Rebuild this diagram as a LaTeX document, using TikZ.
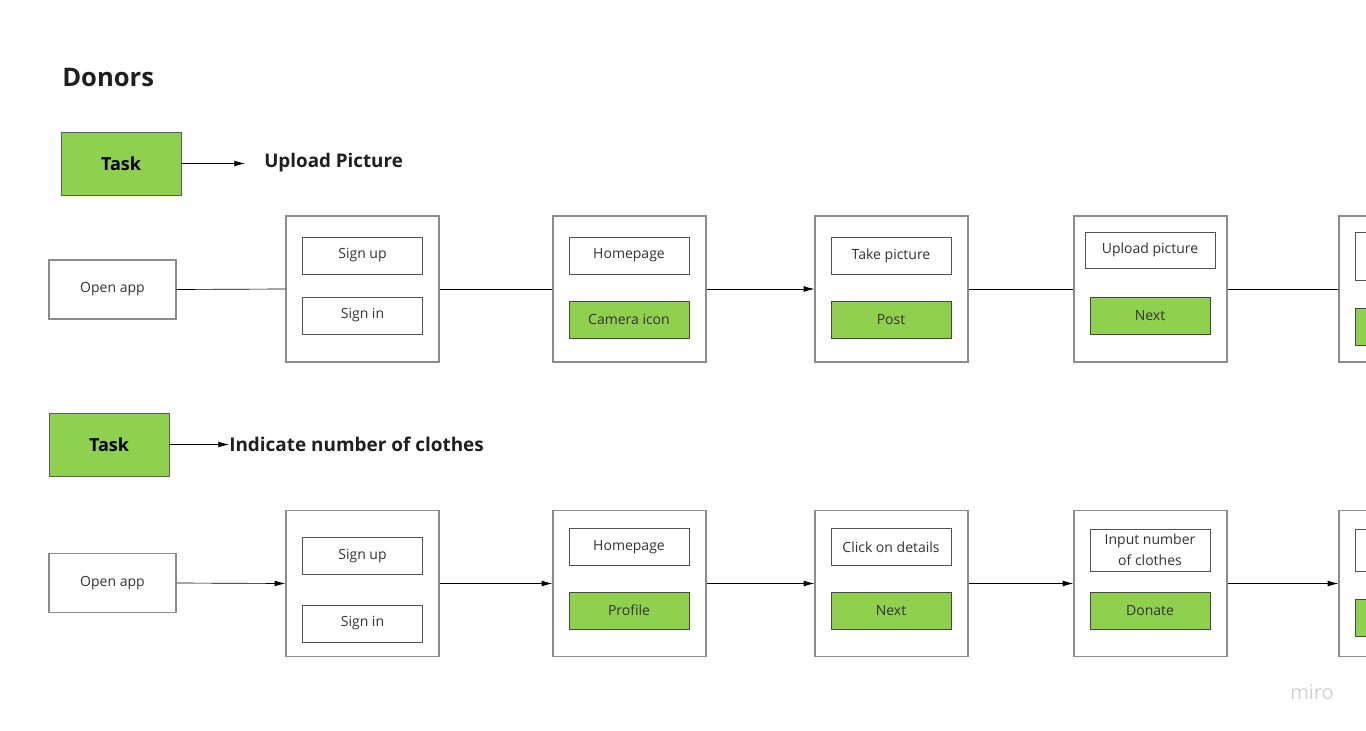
\documentclass[tikz,border=0pt]{standalone}
\usepackage{fontspec}
\setmainfont{Open Sans}
\usetikzlibrary{arrows.meta}
\definecolor{mirogreen}{HTML}{8FD14F}
\definecolor{ink}{HTML}{333333}
\tikzset{
  screen/.style={draw=gray!90,line width=1pt,minimum width=114.75pt,minimum height=109.5pt},
  item/.style={draw=ink!85,line width=0.7pt,fill=white,text=ink,minimum width=90pt,minimum height=27.75pt,inner sep=1pt,align=center,font=\fontsize{10.5}{15.5}\selectfont},
  act/.style={item,fill=mirogreen,draw=ink!90},
  startbox/.style={draw=gray!90,line width=0.8pt,text=ink,minimum width=95.25pt,minimum height=44.25pt,font=\fontsize{10.5}{12}\selectfont},
  taskbox/.style={draw=ink!80,line width=0.7pt,fill=mirogreen,minimum width=90pt,minimum height=47.25pt,font=\fontsize{13.5}{15}\selectfont\bfseries},
  flow/.style={line width=0.5pt},
  flowarrow/.style={flow,-{Latex[length=8pt,width=4.4pt]}}
}
\begin{document}
\begin{tikzpicture}[x=0.75pt,y=-0.75pt]
\useasboundingbox (0,0) rectangle (1366,731);
\clip (0,0) rectangle (1366,731);
% title and tasks
\node[anchor=west,inner sep=0,font=\fontsize{19.2}{21}\selectfont\bfseries,text=black!88] (donors) at (62,77) {Donors};
\node[taskbox] (task1) at (121,163.5) {Task};
\coordinate (task1end) at (245,163.5);
\draw[flowarrow] (task1.east) -- (task1end);
\node[anchor=west,inner sep=0,font=\fontsize{14.1}{16}\selectfont\bfseries,text=black!88] (goal1) at (264,163) {Upload Picture};
\node[taskbox] (task2) at (109,444.5) {Task};
\node[anchor=west,inner sep=0,font=\fontsize{14.2}{16}\selectfont\bfseries,text=black!88] (goal2) at (229,444.5) {Indicate number of clothes};
\draw[flowarrow] (task2.east) -- (goal2.west);
% first flow
\node[startbox] (openA) at (112.5,289.5) {Open app};
\node[screen] (s1a) at (362.5,289) {};
\node[screen] (s1b) at (629.5,289) {};
\node[screen] (s1c) at (891.5,289) {};
\node[screen] (s1d) at (1150.5,289) {};
\node[screen] (s1e) at (1415.5,289) {};
\node[item] (signup1) at (362.5,255.5) {Sign up};
\node[item] (signin1) at (362.5,315.5) {Sign in};
\node[item] (home1) at (629,255.5) {Homepage};
\node[act] (camera) at (629,319.5) {Camera icon};
\node[item,minimum width=97.5pt,minimum height=27pt] (upload) at (1150,250) {Upload picture};
\node[act] (next1) at (1150,315.5) {Next};
\node[item] (take) at (891,255.5) {Take picture};
\node[act] (post) at (891,319.5) {Post};
\node[item,minimum height=36pt] (more1) at (1415,256) {};
\node[act] (more1b) at (1415,326.5) {};
\draw[flow] (openA.east) -- (s1a.west);
\draw[flow] (s1a.east) -- (s1b.west);
\draw[flowarrow] (s1b.east) -- (s1c.west);
\draw[flow] (s1c.east) -- (s1d.west);
\draw[flow] (s1d.east) -- (s1e.west);
% second flow
\node[startbox] (openB) at (112.5,583) {Open app};
\node[screen] (s2a) at (362.5,583.5) {};
\node[screen] (s2b) at (629.5,583.5) {};
\node[screen] (s2c) at (891.5,583.5) {};
\node[screen] (s2d) at (1150.5,583.5) {};
\node[screen] (s2e) at (1415.5,583.5) {};
\node[item] (signup2) at (362.5,556) {Sign up};
\node[item] (signin2) at (362.5,623.5) {Sign in};
\node[item] (home2) at (629,547) {Homepage};
\node[act] (profile) at (629,610.5) {Profile};
\node[item] (details) at (891,547) {Click on details};
\node[act] (next2) at (891,610.5) {Next};
\node[item,minimum height=31.5pt] (input) at (1150,550) {Input number\\of clothes};
\node[act] (donate) at (1150,610.5) {Donate};
\node[item,minimum height=31.5pt] (more2) at (1415,550) {};
\node[act] (more2b) at (1415,617.5) {};
\draw[flowarrow] (openB.east) -- (s2a.west);
\draw[flowarrow] (s2a.east) -- (s2b.west);
\draw[flowarrow] (s2b.east) -- (s2c.west);
\draw[flowarrow] (s2c.east) -- (s2d.west);
\draw[flowarrow] (s2d.east) -- (s2e.west);
\node[text=gray!35,font=\fontsize{15}{17}\selectfont] (brand) at (1312,692) {miro};
\end{tikzpicture}
\end{document}
